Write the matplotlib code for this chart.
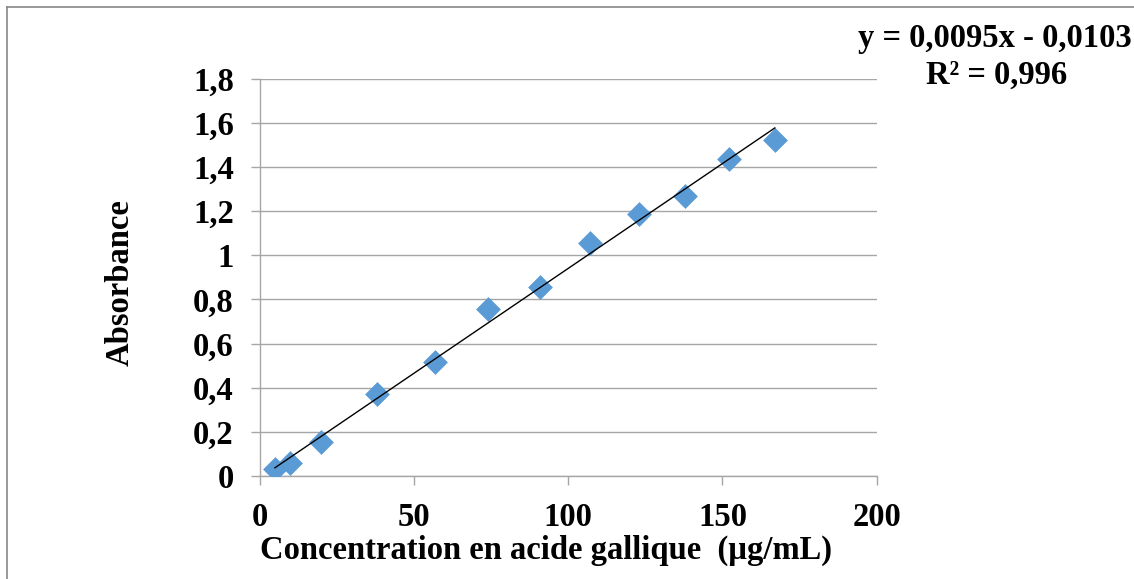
import matplotlib
matplotlib.use("Agg")
import matplotlib.pyplot as plt
from matplotlib.lines import Line2D

# data
conc = [5, 10, 20, 38, 57, 74, 91, 107, 123, 138, 152, 167]
absorb = [0.032, 0.058, 0.153, 0.371, 0.518, 0.755, 0.857, 1.057, 1.185, 1.268, 1.437, 1.522]
slope = 0.0095
intercept = -0.0103
y_ticks = [0, 0.2, 0.4, 0.6, 0.8, 1.0, 1.2, 1.4, 1.6, 1.8]
y_tick_labels = ["0", "0,2", "0,4", "0,6", "0,8", "1", "1,2", "1,4", "1,6", "1,8"]
x_ticks = [0, 50, 100, 150, 200]
x_tick_labels = ["0", "50", "100", "150", "200"]

plt.rcParams['font.family'] = ['Liberation Serif', 'DejaVu Serif']
plt.rcParams['font.weight'] = 'bold'
fs = 23.5

fig = plt.figure(figsize=(11.34, 5.79), dpi=100)
ax = fig.add_axes([259.5 / 1134, 1 - 476 / 579, 617.2 / 1134, 397.5 / 579])

grid_col = '#a6a6a6'
ax.scatter(conc, absorb, marker='D', s=160, color='#5b9bd5', zorder=3, linewidths=0)
x_line = [min(conc), max(conc)]
ax.plot(x_line, [slope * v + intercept for v in x_line], color='black', lw=1.0, zorder=4)

ax.set_xlim(0, 200)
ax.set_ylim(0, 1.8)
ax.set_yticks(y_ticks)
ax.set_yticklabels(y_tick_labels)
ax.set_xticks(x_ticks)
ax.set_xticklabels(x_tick_labels)
ax.tick_params(axis='both', labelsize=fs, color=grid_col, length=6.5, width=1.0)
ax.tick_params(axis='y', pad=12)
ax.tick_params(axis='x', pad=12)
ax.yaxis.grid(True, color=grid_col, lw=1.0)
ax.set_axisbelow(True)

for s in ['top', 'right']:
    ax.spines[s].set_visible(False)
for s in ['left', 'bottom']:
    ax.spines[s].set_color(grid_col)
    ax.spines[s].set_linewidth(1.0)

ax.set_xlabel("Concentration en acide gallique  (µg/mL)", fontsize=fs, fontweight='bold', va='center')
ax.xaxis.set_label_coords(0.465, -0.186)
ax.set_ylabel("Absorbance", fontsize=fs, fontweight='bold', va='center')
ax.yaxis.set_label_coords(-0.226, 0.486)

fig.text(995 / 1134, 1 - 38 / 579, "y = 0,0095x - 0,0103", fontsize=fs, fontweight='bold',
         ha='center', va='center')
fig.text(997 / 1134, 1 - 75 / 579, "R² = 0,996", fontsize=fs, fontweight='bold',
         ha='center', va='center')

# outer chart-area border (left and top edges visible)
fig.add_artist(Line2D([6.5 / 1134, 6.5 / 1134], [0, 1 - 6.5 / 579], color='#888888', lw=1.2,
                      transform=fig.transFigure))
fig.add_artist(Line2D([6.5 / 1134, 1], [1 - 6.5 / 579, 1 - 6.5 / 579], color='#888888', lw=1.2,
                      transform=fig.transFigure))

fig.savefig("out.png", dpi=100)
